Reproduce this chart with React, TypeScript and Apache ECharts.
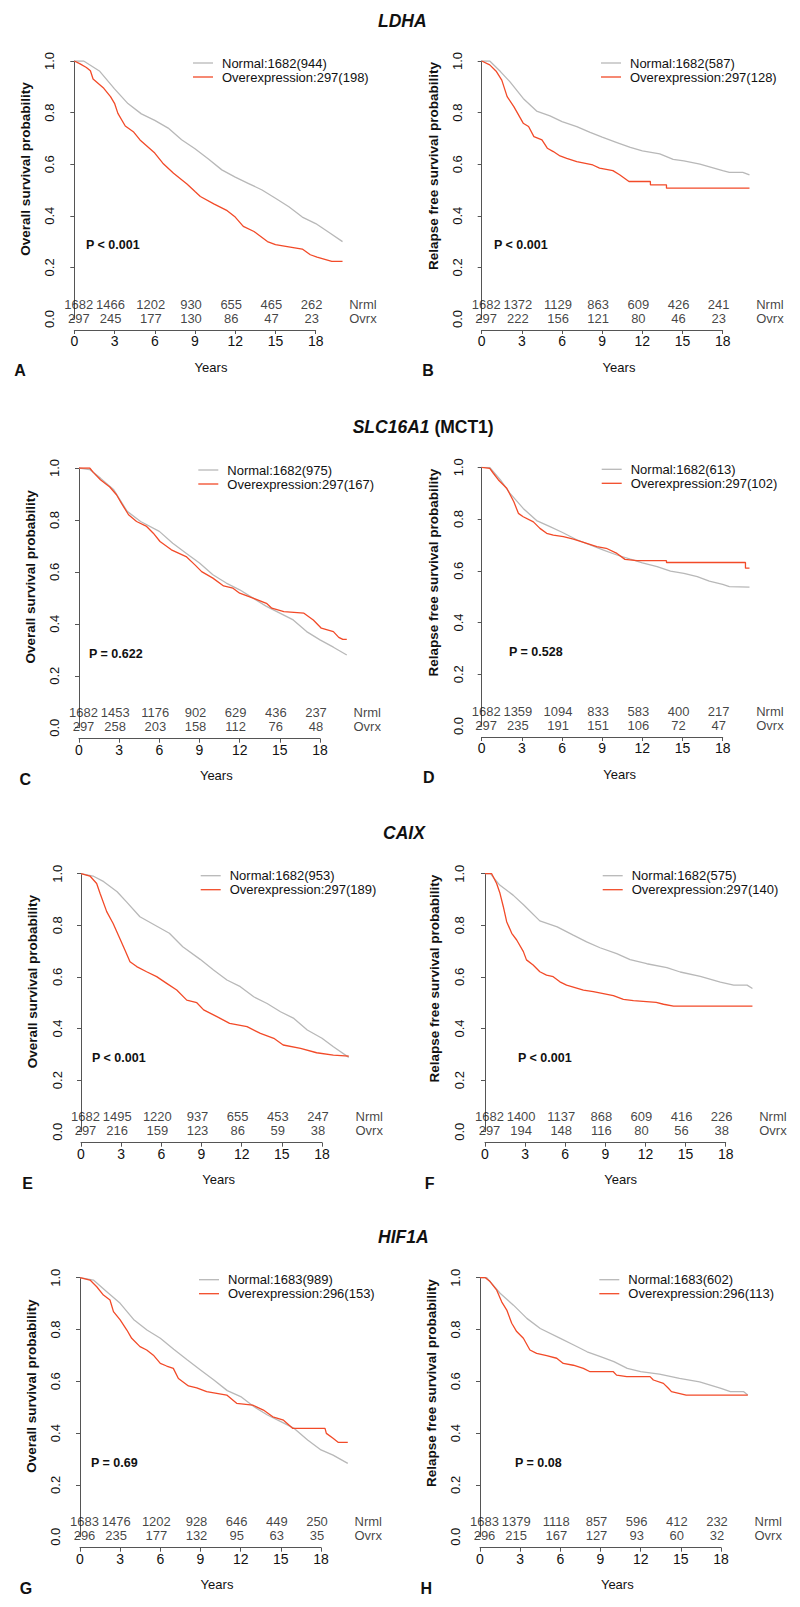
import React, { useEffect, useRef } from "react";
import * as echarts from "echarts";

// ---------------- data ----------------
const yearTicks = [0, 3, 6, 9, 12, 15, 18];
const genes = ["LDHA", "SLC16A1", "CAIX", "HIF1A"];
const geneSuffix = ["", " (MCT1)", "", ""];
const panelLetters = ["A", "B", "C", "D", "E", "F", "G", "H"];
const yTitles = ["Overall survival probability", "Relapse free survival probability"];
const pValues = ["P < 0.001", "P < 0.001", "P = 0.622", "P = 0.528", "P < 0.001", "P < 0.001", "P = 0.69", "P = 0.08"];
const normalLabels = ["Normal:1682(944)", "Normal:1682(587)", "Normal:1682(975)", "Normal:1682(613)", "Normal:1682(953)", "Normal:1682(575)", "Normal:1683(989)", "Normal:1683(602)"];
const overLabels = ["Overexpression:297(198)", "Overexpression:297(128)", "Overexpression:297(167)", "Overexpression:297(102)", "Overexpression:297(189)", "Overexpression:297(140)", "Overexpression:296(153)", "Overexpression:296(113)"];
const riskRowNames = ["Nrml", "Ovrx"];
const riskNormal = [
  [1682, 1466, 1202, 930, 655, 465, 262],
  [1682, 1372, 1129, 863, 609, 426, 241],
  [1682, 1453, 1176, 902, 629, 436, 237],
  [1682, 1359, 1094, 833, 583, 400, 217],
  [1682, 1495, 1220, 937, 655, 453, 247],
  [1682, 1400, 1137, 868, 609, 416, 226],
  [1683, 1476, 1202, 928, 646, 449, 250],
  [1683, 1379, 1118, 857, 596, 412, 232],
];
const riskOver = [
  [297, 245, 177, 130, 86, 47, 23],
  [297, 222, 156, 121, 80, 46, 23],
  [297, 258, 203, 158, 112, 76, 48],
  [297, 235, 191, 151, 106, 72, 47],
  [297, 216, 159, 123, 86, 59, 38],
  [297, 194, 148, 116, 80, 56, 38],
  [296, 235, 177, 132, 95, 63, 35],
  [296, 215, 167, 127, 93, 60, 32],
];

const A_normal = [[0,1],[0.7,1],[1.9,0.96],[3,0.892],[4,0.835],[5,0.795],[6,0.77],[7,0.74],[8,0.695],[9,0.66],[10,0.62],[11,0.578],[12,0.55],[13,0.525],[14,0.5],[15,0.468],[16,0.435],[17,0.395],[18,0.37],[19,0.335],[20,0.3]];
const A_over = [[0,1],[0.4,0.99],[0.9,0.975],[1.2,0.962],[1.4,0.93],[2.2,0.894],[2.7,0.862],[3,0.836],[3.25,0.797],[3.8,0.748],[4.4,0.726],[4.9,0.694],[6,0.643],[6.6,0.604],[7.4,0.565],[8.4,0.523],[9,0.494],[9.4,0.475],[10.4,0.446],[11.4,0.42],[12,0.395],[12.6,0.359],[13.4,0.339],[14.4,0.3],[15,0.288],[16.1,0.279],[17,0.271],[17.6,0.249],[18.1,0.24],[19.2,0.223],[20,0.223]];
const B_normal = [[0,1],[0.6,1],[1.4,0.959],[2.1,0.92],[3.1,0.855],[4.1,0.806],[5.1,0.787],[6,0.765],[7.1,0.746],[8.1,0.723],[9,0.705],[10.1,0.684],[11.1,0.665],[12,0.652],[13.3,0.64],[14.3,0.619],[15.1,0.613],[16.3,0.6],[18,0.575],[18.5,0.568],[19.5,0.568],[20,0.559]];
const B_over = [[0,1],[0.6,0.985],[1.1,0.959],[1.5,0.926],[1.9,0.862],[2.4,0.823],[3.1,0.759],[3.5,0.746],[3.9,0.707],[4.5,0.694],[4.9,0.662],[5.35,0.649],[5.85,0.632],[6.35,0.623],[7.1,0.61],[8.3,0.597],[8.8,0.585],[9.8,0.575],[10.3,0.559],[11,0.533],[12.6,0.533],[12.6,0.52],[13.8,0.52],[13.8,0.507],[20,0.507]];
const C_normal = [[0,1],[0.8,0.994],[1.6,0.961],[2.6,0.916],[3.6,0.833],[4.6,0.794],[6,0.756],[7,0.71],[8,0.672],[9,0.634],[10,0.589],[11,0.557],[12,0.531],[13,0.499],[14,0.467],[15,0.441],[16,0.415],[17,0.37],[18,0.338],[19,0.31],[20,0.28]];
const C_over = [[0,1],[0.8,1],[1.07,0.983],[1.6,0.955],[2.3,0.927],[2.8,0.897],[3.2,0.862],[3.7,0.82],[4.3,0.794],[5.05,0.775],[5.55,0.749],[6.05,0.717],[6.9,0.685],[8,0.659],[8.66,0.627],[9.16,0.601],[10,0.576],[10.8,0.546],[11.5,0.537],[12,0.518],[13,0.499],[14,0.479],[14.4,0.46],[15.3,0.447],[16.8,0.441],[17.5,0.415],[18.1,0.383],[19,0.37],[19.4,0.348],[19.7,0.34],[20,0.34]];
const D_normal = [[0,1],[0.6,1],[1.4,0.951],[2.1,0.9],[3.1,0.841],[4.1,0.794],[5.1,0.771],[6,0.749],[7.1,0.72],[8.1,0.7],[9.1,0.68],[10.1,0.661],[11.1,0.645],[12,0.631],[13.1,0.616],[14.1,0.599],[15.1,0.59],[16.1,0.577],[17,0.56],[18,0.547],[18.5,0.539],[20,0.537]];
const D_over = [[0,1],[0.6,0.996],[0.87,0.977],[1.25,0.951],[1.87,0.919],[2.4,0.867],[2.74,0.822],[3.1,0.809],[3.86,0.789],[4.35,0.764],[4.85,0.745],[5.35,0.738],[6.1,0.732],[6.85,0.722],[7.84,0.706],[8.6,0.693],[9.3,0.687],[10.1,0.667],[10.7,0.644],[11.6,0.639],[13.8,0.639],[13.8,0.632],[19.7,0.632],[19.7,0.61],[20,0.61]];
const E_normal = [[0,1],[0.9,0.991],[1.7,0.969],[2.7,0.93],[3.4,0.891],[4.4,0.833],[5.5,0.801],[6.6,0.769],[7.6,0.717],[8.9,0.668],[9.9,0.627],[10.9,0.588],[11.9,0.562],[12.9,0.523],[13.9,0.497],[14.9,0.465],[15.9,0.439],[16.9,0.394],[18,0.362],[18.85,0.329],[20,0.288]];
const E_over = [[0,1],[0.67,0.991],[1.17,0.962],[1.42,0.924],[1.92,0.853],[2.4,0.807],[2.9,0.749],[3.28,0.704],[3.66,0.659],[4.16,0.64],[4.9,0.62],[5.65,0.601],[6.4,0.575],[7.15,0.549],[7.9,0.51],[8.65,0.5],[9.16,0.472],[10.15,0.446],[11.1,0.42],[12.4,0.407],[13.4,0.381],[14.4,0.362],[15.1,0.336],[16.4,0.323],[17.6,0.306],[18.85,0.297],[20,0.293]];
const F_normal = [[0,1],[0.4,1],[1.1,0.956],[2.1,0.917],[2.9,0.879],[4.1,0.817],[5.4,0.794],[6.6,0.762],[7.6,0.736],[8.6,0.713],[9.85,0.69],[10.85,0.667],[12.1,0.651],[13.6,0.636],[14.6,0.619],[16.1,0.602],[17.6,0.58],[18.6,0.568],[19.6,0.568],[20,0.555]];
const F_over = [[0,1],[0.5,1],[0.87,0.962],[1.12,0.924],[1.37,0.872],[1.62,0.814],[2,0.769],[2.37,0.743],[2.87,0.698],[3.1,0.666],[3.6,0.646],[4.1,0.62],[4.6,0.607],[5.1,0.601],[5.6,0.581],[6.1,0.568],[7.36,0.549],[8.1,0.543],[9.6,0.527],[10.35,0.513],[11.1,0.508],[12.8,0.501],[13.35,0.494],[14.1,0.487],[20,0.487]];
const G_normal = [[0,1],[1,0.991],[2,0.946],[3,0.901],[4,0.839],[5,0.798],[6,0.766],[7,0.724],[8,0.683],[9,0.644],[10,0.605],[11,0.564],[12,0.541],[13,0.502],[14,0.47],[15,0.444],[16,0.418],[17,0.373],[18,0.335],[18.9,0.315],[20,0.283]];
const G_over = [[0,1],[0.75,0.991],[1.25,0.965],[1.75,0.933],[2.24,0.914],[2.5,0.869],[3,0.837],[3.5,0.798],[3.86,0.766],[4.48,0.734],[4.98,0.721],[5.48,0.701],[6,0.669],[6.47,0.659],[6.97,0.65],[7.35,0.611],[8.1,0.582],[8.72,0.575],[9.46,0.56],[10.96,0.547],[11.7,0.515],[12.9,0.508],[13.7,0.489],[14.4,0.463],[15.2,0.45],[15.9,0.418],[18.3,0.418],[18.4,0.399],[18.9,0.38],[19.3,0.364],[20,0.364]];
const H_normal = [[0,1],[0.5,1],[1.5,0.94],[2.5,0.894],[3.5,0.843],[4.5,0.804],[6,0.766],[7,0.74],[8,0.714],[9,0.695],[10,0.676],[11,0.65],[12,0.637],[13.4,0.628],[14.9,0.611],[16.4,0.598],[18,0.573],[18.7,0.56],[19.7,0.56],[20,0.547]];
const H_over = [[0,1],[0.4,1],[0.75,0.985],[1.25,0.952],[1.62,0.907],[2,0.875],[2.37,0.824],[2.74,0.792],[3.24,0.766],[3.73,0.721],[4.23,0.708],[4.98,0.699],[5.73,0.689],[6.22,0.669],[6.97,0.662],[7.72,0.65],[8.22,0.637],[9.96,0.637],[10.2,0.624],[10.96,0.618],[12.7,0.618],[12.95,0.605],[13.7,0.592],[14.07,0.573],[14.3,0.56],[15.4,0.547],[20,0.547]];

const normalCurves = [A_normal, B_normal, C_normal, D_normal, E_normal, F_normal, G_normal, H_normal];
const overCurves = [A_over, B_over, C_over, D_over, E_over, F_over, G_over, H_over];

// ---------------- layout (pixels) ----------------
const layout = [
  { ax: 63, x0: 74.3, x18: 315.7, y1: 61, y0: 319, pdx: 23 },
  { ax: 471, x0: 481.7, x18: 722.7, y1: 61, y0: 319, pdx: 23 },
  { ax: 68.3, x0: 79, x18: 320, y1: 468, y0: 727.7, pdx: 20.7 },
  { ax: 471.7, x0: 481.7, x18: 722.7, y1: 467.3, y0: 726, pdx: 37.3 },
  { ax: 70.7, x0: 81, x18: 322, y1: 873.7, y0: 1131.7, pdx: 21.3 },
  { ax: 472.7, x0: 485, x18: 725.7, y1: 873.7, y0: 1131.7, pdx: 45.3 },
  { ax: 69, x0: 80, x18: 321, y1: 1277.7, y0: 1536.7, pdx: 22 },
  { ax: 469.3, x0: 480, x18: 721, y1: 1277.7, y0: 1536.7, pdx: 45.7 },
];
const titleLayout = [
  { left: 378, y: 21 },
  { left: 352.7, y: 427 },
  { left: 383, y: 833.3 },
  { left: 378, y: 1236.7 },
];
const yTitleShift = [-21, -24]; // vertical shift of y-axis title centre (left / right column)

const FAMILY = "Arial, Helvetica, sans-serif";
const TXT = "#111";
const AXIS = "#555";
const GRAY = "#b8b8b8";
const RED = "#f24a28";

function buildOption() {
  const grid: any[] = [];
  const xAxis: any[] = [];
  const yAxis: any[] = [];
  const series: any[] = [];
  const graphic: any[] = [];

  layout.forEach((p, i) => {
    const ppy = (p.x18 - p.x0) / 18;
    const xmin = -(p.x0 - p.ax) / ppy;
    const xmax = 21.5;
    const h = p.y0 - p.y1;
    const gi = grid.length;
    grid.push({ left: p.ax, top: p.y1, width: (xmax - xmin) * ppy, height: h });
    grid.push({ left: p.x0, top: p.y0 + 10, width: p.x18 - p.x0, height: 1 });

    xAxis.push({ gridIndex: gi, type: "value", min: xmin, max: xmax, show: false });
    xAxis.push({
      gridIndex: gi + 1, type: "value", min: 0, max: 18, interval: 3,
      axisLine: { show: true, lineStyle: { color: AXIS, width: 1 } },
      axisTick: { show: true, length: 4, lineStyle: { color: AXIS, width: 1 } },
      axisLabel: { fontSize: 14, color: TXT, fontFamily: FAMILY, margin: 4 },
      splitLine: { show: false },
    });
    yAxis.push({
      gridIndex: gi, type: "value", min: 0, max: 1, interval: 0.2,
      axisLine: { show: true, lineStyle: { color: AXIS, width: 1 } },
      axisTick: { show: true, length: 4, lineStyle: { color: AXIS, width: 1 } },
      axisLabel: { rotate: 90, margin: 7, fontSize: 13, color: TXT, fontFamily: FAMILY, formatter: (v: number) => v.toFixed(1) },
      splitLine: { show: false },
    });
    yAxis.push({ gridIndex: gi + 1, type: "value", min: 0, max: 1, show: false });

    series.push({
      type: "line", name: normalLabels[i], xAxisIndex: gi, yAxisIndex: gi,
      data: normalCurves[i], symbol: "none", silent: true,
      lineStyle: { color: GRAY, width: 1.3 }, itemStyle: { color: GRAY }, z: 2,
    });
    series.push({
      type: "line", name: overLabels[i], xAxisIndex: gi, yAxisIndex: gi,
      data: overCurves[i], symbol: "none", silent: true,
      lineStyle: { color: RED, width: 1.3 }, itemStyle: { color: RED }, z: 3,
    });

    // numbers at risk
    const row1 = 15 / h;
    const row2 = 1 / h;
    const riskData: any[] = [];
    const rows = [riskNormal[i], riskOver[i]];
    [row1, row2].forEach((ry, r) => {
      rows[r].forEach((n, k) => {
        riskData.push({
          value: [yearTicks[k], ry, String(n)],
          label: { offset: [k === 0 ? 4.5 : -4, 0] },
        });
      });
      riskData.push({
        value: [18 + 33.5 / ppy, ry, riskRowNames[r]],
        label: { align: "left", offset: [0, 0] },
      });
    });
    series.push({
      type: "scatter", xAxisIndex: gi, yAxisIndex: gi, symbolSize: 1, silent: true,
      itemStyle: { color: "rgba(0,0,0,0)" },
      label: {
        show: true, position: "inside", color: TXT, fontSize: 13, fontFamily: FAMILY,
        align: "center", verticalAlign: "middle",
        formatter: (prm: any) => prm.value[2],
      },
      data: riskData, z: 4,
    });

    // legend (drawn as lines + texts)
    const lx = p.ax + 130;
    [[normalLabels[i], GRAY, p.y1 + 2], [overLabels[i], RED, p.y1 + 16]].forEach(([txt, col, yy]: any) => {
      graphic.push({ type: "line", shape: { x1: lx, y1: yy, x2: lx + 20, y2: yy }, style: { stroke: col, lineWidth: 1.3 }, silent: true });
      graphic.push({
        type: "text", x: lx + 29, y: yy,
        style: { text: txt, font: `13px ${FAMILY}`, fill: TXT, align: "left", verticalAlign: "middle" },
      });
    });

    // y-axis title
    graphic.push({
      type: "text", x: p.ax - 38, y: (p.y1 + p.y0) / 2 + yTitleShift[i % 2], rotation: Math.PI / 2,
      style: { text: yTitles[i % 2], font: `bold 13.5px ${FAMILY}`, fill: TXT, align: "center", verticalAlign: "middle" },
    });

    graphic.push({
      type: "text", x: p.ax + p.pdx, y: p.y0 - 74,
      style: { text: pValues[i], font: `bold 12.5px ${FAMILY}`, fill: TXT, align: "left", verticalAlign: "middle" },
    });
    graphic.push({
      type: "text", x: p.ax + 148, y: p.y0 + 48,
      style: { text: "Years", font: `13px ${FAMILY}`, fill: TXT, align: "center", verticalAlign: "middle" },
    });
    graphic.push({
      type: "text", x: p.ax - 43, y: p.y0 + 51.5,
      style: { text: panelLetters[i], font: `bold 16px ${FAMILY}`, fill: TXT, align: "center", verticalAlign: "middle" },
    });
  });

  genes.forEach((g, i) => {
    const t = titleLayout[i];
    graphic.push({
      type: "text", x: t.left, y: t.y,
      style: {
        text: `{i|${g}}` + (geneSuffix[i] ? `{n|${geneSuffix[i]}}` : ""),
        align: "left", verticalAlign: "middle", fill: TXT,
        rich: {
          i: { fontStyle: "italic", fontWeight: "bold", fontSize: 17.5, fontFamily: FAMILY, fill: TXT },
          n: { fontStyle: "normal", fontWeight: "bold", fontSize: 17.5, fontFamily: FAMILY, fill: TXT },
        },
      },
    });
  });

  return { animation: false, backgroundColor: "#fff", grid, xAxis, yAxis, series, graphic };
}

export default function App() {
  const ref = useRef<HTMLDivElement>(null);
  useEffect(() => {
    if (!ref.current) return;
    const chart = echarts.init(ref.current, undefined, { renderer: "svg" });
    chart.setOption(buildOption() as any);
    return () => chart.dispose();
  }, []);
  return <div ref={ref} style={{ position: "absolute", left: 0, top: 0, width: 800, height: 1607 }} />;
}
